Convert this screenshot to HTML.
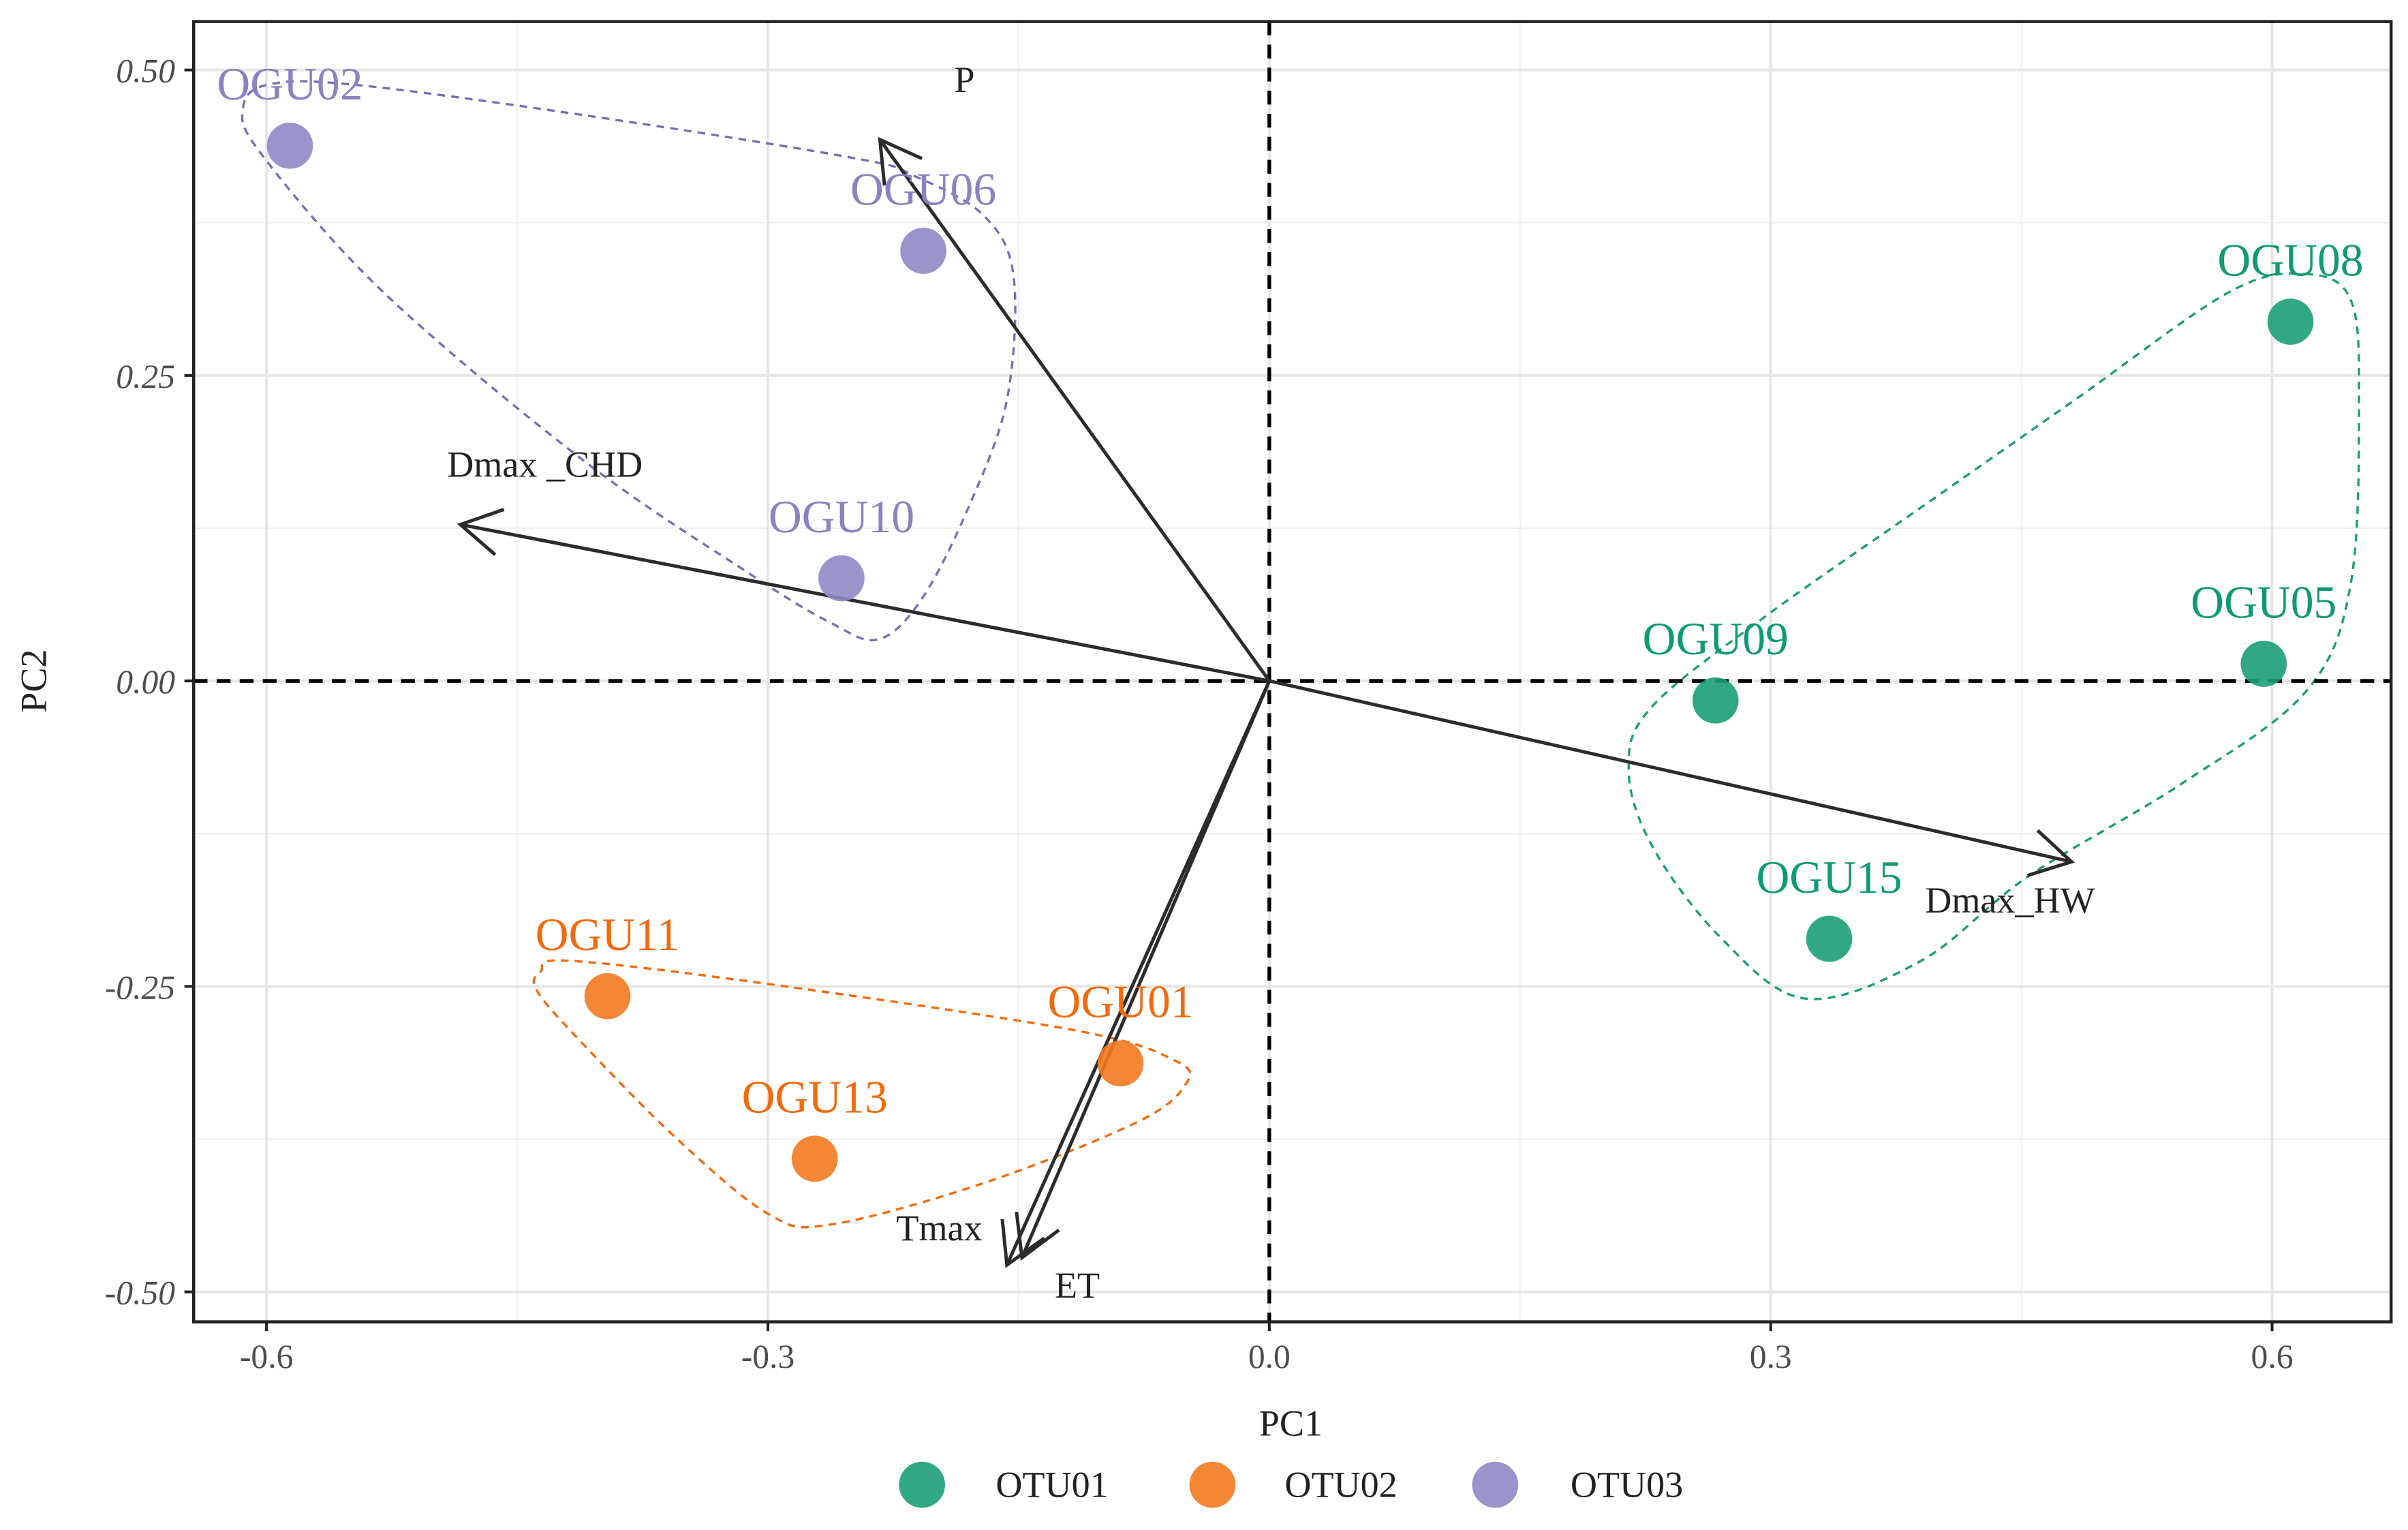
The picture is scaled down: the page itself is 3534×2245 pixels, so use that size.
<!DOCTYPE html>
<html><head><meta charset="utf-8"><style>
html,body{margin:0;padding:0;background:#fff;}
svg{display:block;font-family:"Liberation Serif",serif;}
</style></head><body>
<svg id="chart" width="3534" height="2245" viewBox="0 0 1567 995.4" xmlns="http://www.w3.org/2000/svg">
<g id="grid"></g>
<g id="hulls"></g>
<g id="refs"></g>
<g id="arrows"></g>
<g id="points"></g>
<g id="axes"></g>
<text x="840" y="934" font-size="24" text-anchor="middle" fill="#222">PC1</text>
<text x="0" y="0" font-size="24" text-anchor="middle" fill="#222" transform="translate(30,443) rotate(-90)">PC2</text>
<g>
 <g><circle cx="600" cy="966" r="15" fill="#1b9e77" fill-opacity="0.9"/><text x="648" y="974" font-size="24" fill="#222">OTU01</text></g>
 <g><circle cx="789" cy="966" r="15" fill="#f37a1f" fill-opacity="0.9"/><text x="836" y="974" font-size="24" fill="#222">OTU02</text></g>
 <g><circle cx="973" cy="966" r="15" fill="#8f88c6" fill-opacity="0.9"/><text x="1022" y="974" font-size="24" fill="#222">OTU03</text></g>
</g>
</svg>
<script>
const xTicks=[-0.6,-0.3,0.0,0.3,0.6];
const xTickLabels=["-0.6","-0.3","0.0","0.3","0.6"];
const yTicks=[-0.5,-0.25,0,0.25,0.5];
const yTickLabels=["-0.50","-0.25","0.00","0.25","0.50"];
const xMinor=[-0.45,-0.15,0.15,0.45];
const yMinor=[-0.375,-0.125,0.125,0.375];
const sampleNames=["OGU02","OGU06","OGU10","OGU08","OGU05","OGU09","OGU15","OGU11","OGU01","OGU13"];
const sampleGroup=[2,2,2,0,0,0,0,1,1,1];
const pc1=[-0.586,-0.207,-0.256,0.611,0.595,0.267,0.335,-0.396,-0.089,-0.272];
const pc2=[0.438,0.352,0.084,0.294,0.014,-0.016,-0.211,-0.258,-0.313,-0.391];
const varNames=["P","Dmax _CHD","Dmax_HW","Tmax","ET"];
const varPC1=[-0.233,-0.484,0.480,-0.157,-0.148];
const varPC2=[0.443,0.128,-0.148,-0.478,-0.472];
const hullGreenX=[0.620,0.647,0.652,0.647,0.620,0.546,0.454,0.390,0.321,0.270,0.229,0.215,0.229,0.298,0.390,0.482,0.574];
const hullGreenY=[0.333,0.312,0.230,0.079,-0.009,-0.084,-0.160,-0.229,-0.260,-0.210,-0.135,-0.072,-0.021,0.054,0.142,0.230,0.318];
const hullOrangeX=[-0.436,-0.419,-0.300,-0.116,-0.056,-0.050,-0.079,-0.171,-0.263,-0.300,-0.355,-0.410,-0.438];
const hullOrangeY=[-0.238,-0.229,-0.248,-0.286,-0.311,-0.330,-0.361,-0.411,-0.445,-0.436,-0.374,-0.298,-0.254];
const hullPurpleX=[-0.614,-0.599,-0.548,-0.410,-0.249,-0.212,-0.171,-0.153,-0.157,-0.180,-0.208,-0.234,-0.263,-0.309,-0.410,-0.530,-0.603];
const hullPurpleY=[0.469,0.488,0.488,0.463,0.428,0.413,0.381,0.331,0.230,0.142,0.067,0.034,0.048,0.086,0.180,0.318,0.431];

const NS="http://www.w3.org/2000/svg";
const L=126,R=1556,T=14,B=860;
const X=v=>826+v*1087.6, Y=v=>443-v*795;
const pointColors=["#1b9e77","#f37a1f","#8f88c6"];
const labelColors=["#0f9a74","#f26a0c","#8a83c1"];
const hullColors=["#1b9e77","#f26a0c","#7570b3"];
function mk(tag,attrs,parent){const e=document.createElementNS(NS,tag);for(const k in attrs)e.setAttribute(k,attrs[k]);parent.appendChild(e);return e;}
const grid=document.getElementById('grid');
xMinor.forEach(v=>{const l=mk('line',{x1:X(v),x2:X(v),y1:T,y2:B,stroke:'#efefef','stroke-width':0.9},grid);});
yMinor.forEach(v=>{const l=mk('line',{x1:L,x2:R,y1:Y(v),y2:Y(v),stroke:'#efefef','stroke-width':0.9},grid);});
xTicks.forEach(v=>{const l=mk('line',{x1:X(v),x2:X(v),y1:T,y2:B,stroke:'#e6e6e6','stroke-width':1.8},grid);});
yTicks.forEach(v=>{const l=mk('line',{x1:L,x2:R,y1:Y(v),y2:Y(v),stroke:'#e6e6e6','stroke-width':1.8},grid);});

function smooth(xs,ys){const p=xs.map((x,i)=>[X(x),Y(ys[i])]);const n=p.length;let d=`M${p[0][0]},${p[0][1]}`;
 for(let i=0;i<n;i++){const p0=p[(i-1+n)%n],p1=p[i],p2=p[(i+1)%n],p3=p[(i+2)%n];
  const c1=[p1[0]+(p2[0]-p0[0])/6,p1[1]+(p2[1]-p0[1])/6],c2=[p2[0]-(p3[0]-p1[0])/6,p2[1]-(p3[1]-p1[1])/6];
  d+=`C${c1[0]},${c1[1]} ${c2[0]},${c2[1]} ${p2[0]},${p2[1]}`;}return d+'Z';}
const hulls=document.getElementById('hulls');
[[hullGreenX,hullGreenY,'hull-otu01'],[hullOrangeX,hullOrangeY,'hull-otu02'],[hullPurpleX,hullPurpleY,'hull-otu03']].forEach((h,i)=>{
 const p=mk('path',{d:smooth(h[0],h[1]),fill:'none',stroke:hullColors[i],'stroke-width':1.5,'stroke-dasharray':'5,4'},hulls);
 
 });

const refs=document.getElementById('refs');
let r1=mk('line',{x1:L,x2:R,y1:Y(0),y2:Y(0),stroke:'#000','stroke-width':2.4,'stroke-dasharray':'9,6'},refs);

let r2=mk('line',{x1:X(0),x2:X(0),y1:T,y2:B,stroke:'#000','stroke-width':2.4,'stroke-dasharray':'9,6'},refs);


const arrows=document.getElementById('arrows');
const labOff=[[55,-39],[55,-39],[-40,25],[-44,-24],[36,18]];
varNames.forEach((n,i)=>{
 const g=mk('g',{},arrows);
 
 
 const x0=X(0),y0=Y(0),x1=X(varPC1[i]),y1=Y(varPC2[i]);
 mk('line',{x1:x0,y1:y0,x2:x1,y2:y1,stroke:'#2b2b2b','stroke-width':2.2},g);
 const a=Math.atan2(y1-y0,x1-x0),len=30,s=Math.PI/6;
 const pa=[x1-len*Math.cos(a-s),y1-len*Math.sin(a-s)],pb=[x1-len*Math.cos(a+s),y1-len*Math.sin(a+s)];
 mk('polyline',{points:`${pa[0]},${pa[1]} ${x1},${y1} ${pb[0]},${pb[1]}`,fill:'none',stroke:'#2b2b2b','stroke-width':2.2},g);
 const t=mk('text',{x:x1+labOff[i][0],y:y1+labOff[i][1]+8,'font-size':24,'text-anchor':'middle',fill:'#222'},g);t.textContent=n;
});

const pts=document.getElementById('points');
sampleNames.forEach((n,i)=>{
 const g=mk('g',{},pts);
 
 
 mk('circle',{cx:X(pc1[i]),cy:Y(pc2[i]),r:15,fill:pointColors[sampleGroup[i]],'fill-opacity':0.9},g);
 const t=mk('text',{x:X(pc1[i]),y:Y(pc2[i])-30,'font-size':30,'text-anchor':'middle',fill:labelColors[sampleGroup[i]]},g);t.textContent=n;
});

const axes=document.getElementById('axes');
let fr=mk('rect',{x:L,y:T,width:R-L,height:B-T,fill:'none',stroke:'#222','stroke-width':2},axes);

xTicks.forEach((v,i)=>{mk('line',{x1:X(v),x2:X(v),y1:B,y2:B+6,stroke:'#222','stroke-width':1.8},axes);
 const t=mk('text',{x:X(v),y:B+30,'font-size':22,'text-anchor':'middle',fill:'#4d4d4d'},axes);t.textContent=xTickLabels[i];
 });
yTicks.forEach((v,i)=>{mk('line',{x1:L-6,x2:L,y1:Y(v),y2:Y(v),stroke:'#222','stroke-width':1.8},axes);
 const t=mk('text',{x:L-12,y:Y(v)+8,'font-size':22,'text-anchor':'end','font-style':'italic',fill:'#4d4d4d'},axes);t.textContent=yTickLabels[i];
 });
</script>
</body></html>
